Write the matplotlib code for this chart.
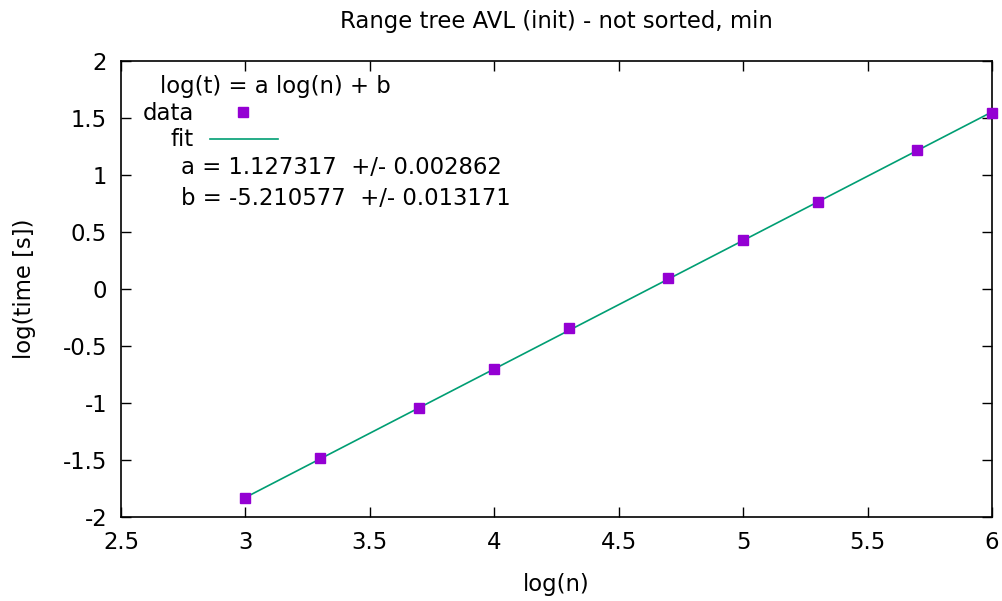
import matplotlib
matplotlib.use("Agg")
import matplotlib.pyplot as plt
import numpy as np

log_n = [3.0, 3.30103, 3.69897, 4.0, 4.30103, 4.69897, 5.0, 5.30103, 5.69897, 6.0]
log_t = [-1.833, -1.483, -1.040, -0.700, -0.345, 0.095, 0.430, 0.765, 1.215, 1.545]
a_fit = 1.127317
b_fit = -5.210577
a_err = 0.002862
b_err = 0.013171

xticks = [2.5, 3, 3.5, 4, 4.5, 5, 5.5, 6]
xtick_labels = ["2.5", "3", "3.5", "4", "4.5", "5", "5.5", "6"]
yticks = [-2, -1.5, -1, -0.5, 0, 0.5, 1, 1.5, 2]
ytick_labels = ["-2", "-1.5", "-1", "-0.5", "0", "0.5", "1", "1.5", "2"]

FS = 16.4
plt.rcParams['font.family'] = ['DejaVu Sans']
fig = plt.figure(figsize=(10.03, 6.01), dpi=100)
ax = fig.add_axes([121/1003, 1-517/601, 871/1003, 456/601])

xs = np.array([min(log_n), max(log_n)])
ax.plot(xs, a_fit*xs + b_fit, color='#009E73', lw=1.2, zorder=2)
ax.plot(log_n, log_t, 's', color='#9400D3', ms=7, mec='#9400D3', zorder=3, clip_on=False)

ax.set_xlim(2.5, 6)
ax.set_ylim(-2, 2)
ax.set_xticks(xticks)
ax.set_xticklabels(xtick_labels)
ax.set_yticks(yticks)
ax.set_yticklabels(ytick_labels)
ax.tick_params(direction='in', length=7, width=1, top=True, right=True, labelsize=FS, pad=10)
for s in ax.spines.values():
    s.set_linewidth(1.2)

ax.set_title("Range tree AVL (init) - not sorted, min", fontsize=FS, pad=24)
ax.set_xlabel("log(n)", fontsize=FS, labelpad=14)
ax.set_ylabel("log(time [s])", fontsize=FS, labelpad=19)

def px(xp, yp):
    return (xp/1003, 1-yp/601)

fig.text(*px(160, 86), "log(t) = a log(n) + b", fontsize=FS, va='center', ha='left')
fig.text(*px(194, 113), "data", fontsize=FS, va='center', ha='right')
fig.text(*px(194, 139), "fit", fontsize=FS, va='center', ha='right')
fig.lines.append(plt.Line2D([243/1003], [1-112/601], marker='s', color='#9400D3', ms=7, transform=fig.transFigure))
fig.lines.append(plt.Line2D([210/1003, 278/1003], [1-139/601, 1-139/601], color='#009E73', lw=1.2, transform=fig.transFigure))
fig.text(*px(181, 167), f"a = {a_fit:.6f}  +/- {a_err:.6f}", fontsize=FS, va='center', ha='left')
fig.text(*px(181, 199), f"b = {b_fit:.6f}  +/- {b_err:.6f}", fontsize=FS, va='center', ha='left')

fig.savefig("out.png", dpi=100)
